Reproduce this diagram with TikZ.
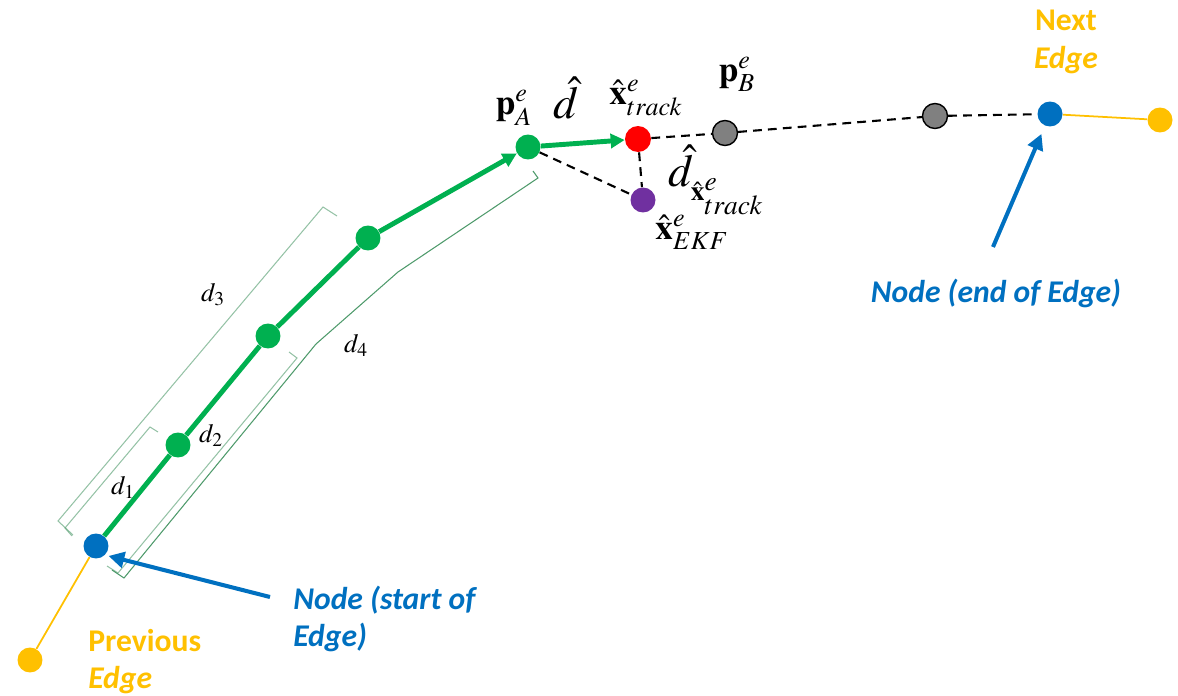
\documentclass[tikz,border=0pt]{standalone}
\usepackage{amsmath}
\usepackage{mathptmx}
\usepackage{fontspec}
\usetikzlibrary{arrows.meta,positioning}
\newfontfamily\calib{Carlito}
\definecolor{trackgreen}{HTML}{00B050}
\definecolor{nodeblue}{HTML}{0070C0}
\definecolor{edgeyellow}{HTML}{FFC000}
\definecolor{ekfpurple}{HTML}{7030A0}
\definecolor{pointgray}{HTML}{808080}
\definecolor{bracketgreen}{HTML}{4E9A6B}

\tikzset{
  dot/.style={circle, inner sep=0pt, minimum size=0.5cm},
  trackline/.style={trackgreen, line width=2.8pt},
  edgeline/.style={edgeyellow, line width=1pt},
  dashline/.style={black, line width=1.2pt, dash pattern=on 5pt off 3.5pt},
  bracket/.style={bracketgreen, line width=0.6pt},
  pointer/.style={nodeblue, line width=2.3pt, -{Triangle[length=9pt,width=9pt]}},
  mathlbl/.style={inner sep=0pt, font=\fontsize{20}{24}\selectfont},
  distlbl/.style={inner sep=0pt, font=\fontsize{15}{17}\selectfont},
  bluelbl/.style={nodeblue, inner sep=0pt, font=\calib\fontsize{18}{22}\selectfont\bfseries\itshape},
  yellowlbl/.style={edgeyellow, inner sep=0pt, font=\calib\fontsize{18}{22}\selectfont\bfseries}
}

\begin{document}
\begin{tikzpicture}[x=0.02cm, y=-0.02cm]
  \useasboundingbox (0,0) rectangle (1178,696);

  % points along the edge
  \node[dot, fill=edgeyellow] (prev) at (30,660) {};
  \node[dot, fill=nodeblue] (start) at (96,546) {};
  \node[dot, fill=trackgreen] (g1) at (178,445) {};
  \node[dot, fill=trackgreen] (g2) at (268,336) {};
  \node[dot, fill=trackgreen] (g3) at (368,238) {};
  \node[dot, fill=trackgreen] (pA) at (528,147) {};
  \node[dot, fill=red, minimum size=0.52cm] (xtrack) at (638,139) {};
  \node[dot, fill=ekfpurple] (xekf) at (643,200) {};
  \node[dot, fill=pointgray, draw=black, line width=0.8pt] (pB) at (725,133) {};
  \node[dot, fill=pointgray, draw=black, line width=0.8pt] (gray) at (935,116) {};
  \node[dot, fill=nodeblue] (end) at (1050,114) {};
  \node[dot, fill=edgeyellow] (next) at (1160,120) {};

  % connections
  \draw[edgeline] (start) -- (prev);
  \draw[edgeline] (end) -- (next);
  \draw[trackline] (start) -- (g1) -- (g2) -- (g3);
  \draw[trackline, -{Triangle[length=8pt,width=8pt]}] (g3) -- (pA);
  \draw[trackline, -{Triangle[length=8pt,width=8pt]}] (pA) -- (xtrack);
  \draw[dashline] (pA) -- (xekf);
  \draw[dashline] (xtrack) -- (xekf);
  \draw[dashline] (xtrack) -- (pB) -- (gray) -- (end);

  % brackets
  \draw[bracket, opacity=0.6] (73,535) -- (58,521) -- (323,207) -- (337,216);
  \draw[bracket, opacity=0.6] (72,536) -- (65,528) -- (150,427) -- (158,432);
  \draw[bracket, opacity=0.6] (107,566) -- (118,573) -- (297,358) -- (289,352);
  \draw[bracket] (112,570) -- (124,578) -- (316,344) -- (398,272) -- (538,178) -- (533,171);

  \node[distlbl] (d1) at (123,487) {$d_1$};
  \node[distlbl] (d2) at (211,435) {$d_2$};
  \node[distlbl] (d3) at (213,295) {$d_3$};
  \node[distlbl] (d4) at (356,345) {$d_4$};

  % math labels
  \node[mathlbl] (pAlbl) at (514,108) {$\mathbf{p}^e_A$};
  \node[mathlbl, font=\fontsize{26}{30}\selectfont] (dhat) at (566,98) {$\hat{d}$};
  \node[mathlbl] (xtracklbl) at (646,98) {$\hat{\mathbf{x}}^e_{track}$};
  \node[mathlbl] (pBlbl) at (737,74) {$\mathbf{p}^e_B$};
  \node[mathlbl, font=\fontsize{26}{30}\selectfont] (dxlbl) at (716,180)
    {$\hat{d}_{\raisebox{-4pt}{$\scriptscriptstyle\hat{\mathbf{x}}^e_{track}$}}$};
  \node[mathlbl] (xekflbl) at (692,232) {$\hat{\mathbf{x}}^e_{EKF}$};

  % text labels
  \node[yellowlbl] (nextA) at (1066,20) {Next};
  \node[yellowlbl, font=\calib\fontsize{18}{22}\selectfont\bfseries\itshape] (nextB) at (1066,60) {Edge};
  \node[yellowlbl, anchor=west] (prevA) at (88,641) {Previous};
  \node[yellowlbl, anchor=west, font=\calib\fontsize{18}{22}\selectfont\bfseries\itshape] (prevB) at (88,680) {Edge};
  \node[bluelbl, anchor=west] (startA) at (293,600) {Node (start of};
  \node[bluelbl, anchor=west] (startB) at (293,637) {Edge)};
  \node[bluelbl] (endlbl) at (996,293) {Node (end of Edge)};

  % pointers
  \coordinate (startptr) at (270,597);
  \coordinate (endptr) at (993,247);
  \draw[pointer, shorten >=2pt] (startptr) -- (start.south east);
  \draw[pointer, shorten >=5pt] (endptr) -- (end);
\end{tikzpicture}
\end{document}
